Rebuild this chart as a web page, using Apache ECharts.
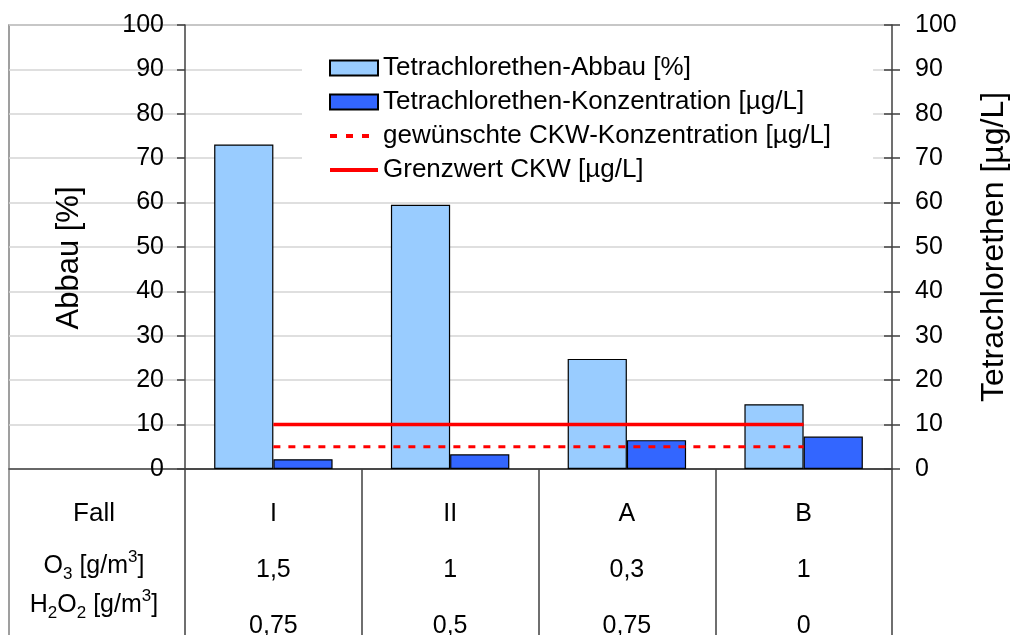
<!DOCTYPE html>
<html>
<head>
<meta charset="utf-8">
<script src="https://cdn.jsdelivr.net/npm/echarts@6/dist/echarts.min.js"></script>
<style>
  html, body { margin: 0; padding: 0; background: #fff; }
  #main { width: 1014px; height: 635px; }
</style>
</head>
<body>
<div id="main"></div>
<script>
// Fall / Messwerte
const categories = ['I', 'II', 'A', 'B'];
const o3Values = ['1,5', '1', '0,3', '1'];
const h2o2Values = ['0,75', '0,5', '0,75', '0'];
const abbau = [73.1, 59.5, 24.8, 14.6];
const konzentration = [2.2, 3.3, 6.5, 7.3];
const gewuenscht = [5, 5, 5, 5];
const grenzwert = [10, 10, 10, 10];
const yMin = 0;
const yMax = 100;
const yStep = 10;

const FONT = '"Liberation Sans", Arial, sans-serif';
// plot box
const L = 185, R = 892, T = 25, B = 469, W = 1014, H = 635, FRAME_X = 9;

let myChart = echarts.init(document.getElementById('main'));

let subRich = {
  n: { fontSize: 25, fontFamily: FONT, color: '#000', lineHeight: 34 },
  sub: { fontSize: 17, fontFamily: FONT, color: '#000', verticalAlign: 'bottom' },
  sup: { fontSize: 17, fontFamily: FONT, color: '#000', verticalAlign: 'top' }
};

// line-only legend icon (no symbol)
let noSymbol = { opacity: 0 };

let option = {
  backgroundColor: '#fff',
  animation: false,
  textStyle: { fontFamily: FONT },
  grid: [
    { left: L, right: W - R, top: T, bottom: H - B, outerBoundsMode: 'none' },
    { left: FRAME_X, right: W - R, top: T, bottom: H - B, outerBoundsMode: 'none' }
  ],
  legend: {
    orient: 'vertical',
    left: 302,
    top: 35,
    padding: [20, 42, 12, 26],
    backgroundColor: '#fff',
    itemWidth: 48,
    itemHeight: 15,
    itemGap: 8,
    textStyle: { fontSize: 26, color: '#000', fontFamily: FONT },
    data: [
      { name: 'Tetrachlorethen-Abbau [%]', icon: 'rect' },
      { name: 'Tetrachlorethen-Konzentration [µg/L]', icon: 'rect' },
      { name: 'gewünschte CKW-Konzentration [µg/L]', itemStyle: noSymbol, lineStyle: { width: 4, type: [7, 9] } },
      { name: 'Grenzwert CKW [µg/L]', itemStyle: noSymbol, lineStyle: { width: 4 } }
    ]
  },
  xAxis: [
    {
      type: 'category',
      gridIndex: 0,
      data: categories,
      axisLine: { show: true, lineStyle: { color: '#404040', width: 1.5 } },
      axisTick: { show: true, length: H - B, lineStyle: { color: '#404040', width: 1.5 } },
      axisLabel: {
        margin: 17,
        lineHeight: 56,
        fontSize: 25,
        color: '#000',
        formatter: function (value, idx) {
          return value + '\n' + o3Values[idx] + '\n' + h2o2Values[idx];
        }
      }
    },
    {
      type: 'value',
      gridIndex: 1,
      axisLine: { show: true, onZero: false, lineStyle: { color: '#404040', width: 1.5 } },
      axisTick: { show: false },
      axisLabel: { show: false },
      splitLine: { show: false }
    }
  ],
  yAxis: [
    {
      type: 'value',
      gridIndex: 0,
      position: 'left',
      min: yMin, max: yMax, interval: yStep,
      name: 'Abbau [%]',
      nameLocation: 'middle',
      nameRotate: 90,
      nameGap: 100,
      nameTextStyle: { fontSize: 31, color: '#000', fontFamily: FONT, padding: [0, 22, 0, 0] },
      axisLine: { show: true, lineStyle: { color: '#404040', width: 1.5 } },
      axisTick: { show: true, length: 8, lineStyle: { color: '#404040', width: 1.5 } },
      axisLabel: { fontSize: 25, color: '#000', margin: 21 },
      splitLine: { show: false }
    },
    {
      type: 'value',
      gridIndex: 0,
      position: 'right',
      min: yMin, max: yMax, interval: yStep,
      name: 'Tetrachlorethen [µg/L]',
      nameLocation: 'middle',
      nameRotate: 90,
      nameGap: 86,
      nameTextStyle: { fontSize: 32, color: '#000', fontFamily: FONT },
      axisLine: { show: true, lineStyle: { color: '#404040', width: 1.5 } },
      axisTick: { show: true, length: 8, lineStyle: { color: '#404040', width: 1.5 } },
      axisLabel: { fontSize: 25, color: '#000', margin: 23 },
      splitLine: { show: false }
    },
    {
      // gridlines reaching the outer frame
      type: 'value',
      gridIndex: 1,
      min: yMin, max: yMax, interval: yStep,
      axisLine: { show: false },
      axisTick: { show: false },
      axisLabel: { show: false },
      splitLine: { show: true, lineStyle: { color: '#d4d4d4', width: 1.5 } }
    },
    {
      // inner half of the crossing ticks on the right axis
      type: 'value',
      gridIndex: 0,
      position: 'right',
      min: yMin, max: yMax, interval: yStep,
      axisLine: { show: false },
      axisTick: { show: true, inside: true, length: 8, lineStyle: { color: '#404040', width: 1.5 } },
      axisLabel: { show: false },
      splitLine: { show: false }
    }
  ],
  graphic: [
    {
      type: 'polyline',
      silent: true,
      z: -1,
      shape: { points: [[FRAME_X, H], [FRAME_X, T], [R, T]] },
      style: { stroke: '#808080', lineWidth: 1.5, fill: null }
    },
    {
      type: 'text',
      style: { x: 94, y: 514, text: 'Fall', align: 'center', verticalAlign: 'middle', fontSize: 26, fontFamily: FONT, fill: '#000' }
    },
    {
      type: 'text',
      style: {
        x: 94, y: 566, align: 'center', verticalAlign: 'middle',
        text: '{n|O}{sub|3}{n| [g/m}{sup|3}{n|]}',
        rich: subRich
      }
    },
    {
      type: 'text',
      style: {
        x: 94, y: 605, align: 'center', verticalAlign: 'middle',
        text: '{n|H}{sub|2}{n|O}{sub|2}{n| [g/m}{sup|3}{n|]}',
        rich: subRich
      }
    }
  ],
  series: [
    {
      name: 'Tetrachlorethen-Abbau [%]',
      type: 'bar',
      xAxisIndex: 0,
      yAxisIndex: 0,
      barGap: '0%',
      barCategoryGap: '33%',
      itemStyle: { color: '#99CCFF', borderColor: '#000', borderWidth: 1.2 },
      data: abbau
    },
    {
      name: 'Tetrachlorethen-Konzentration [µg/L]',
      type: 'bar',
      xAxisIndex: 0,
      yAxisIndex: 1,
      barGap: '0%',
      barCategoryGap: '33%',
      itemStyle: { color: '#3366FF', borderColor: '#000', borderWidth: 1.2 },
      data: konzentration
    },
    {
      name: 'gewünschte CKW-Konzentration [µg/L]',
      type: 'line',
      xAxisIndex: 0,
      yAxisIndex: 1,
      symbol: 'none',
      z: 5,
      lineStyle: { color: '#FF0000', width: 3, type: [7, 8] },
      itemStyle: { color: '#FF0000' },
      data: gewuenscht
    },
    {
      name: 'Grenzwert CKW [µg/L]',
      type: 'line',
      xAxisIndex: 0,
      yAxisIndex: 1,
      symbol: 'none',
      z: 5,
      lineStyle: { color: '#FF0000', width: 3.5 },
      itemStyle: { color: '#FF0000' },
      data: grenzwert
    }
  ]
};

myChart.setOption(option);
</script>
</body>
</html>
